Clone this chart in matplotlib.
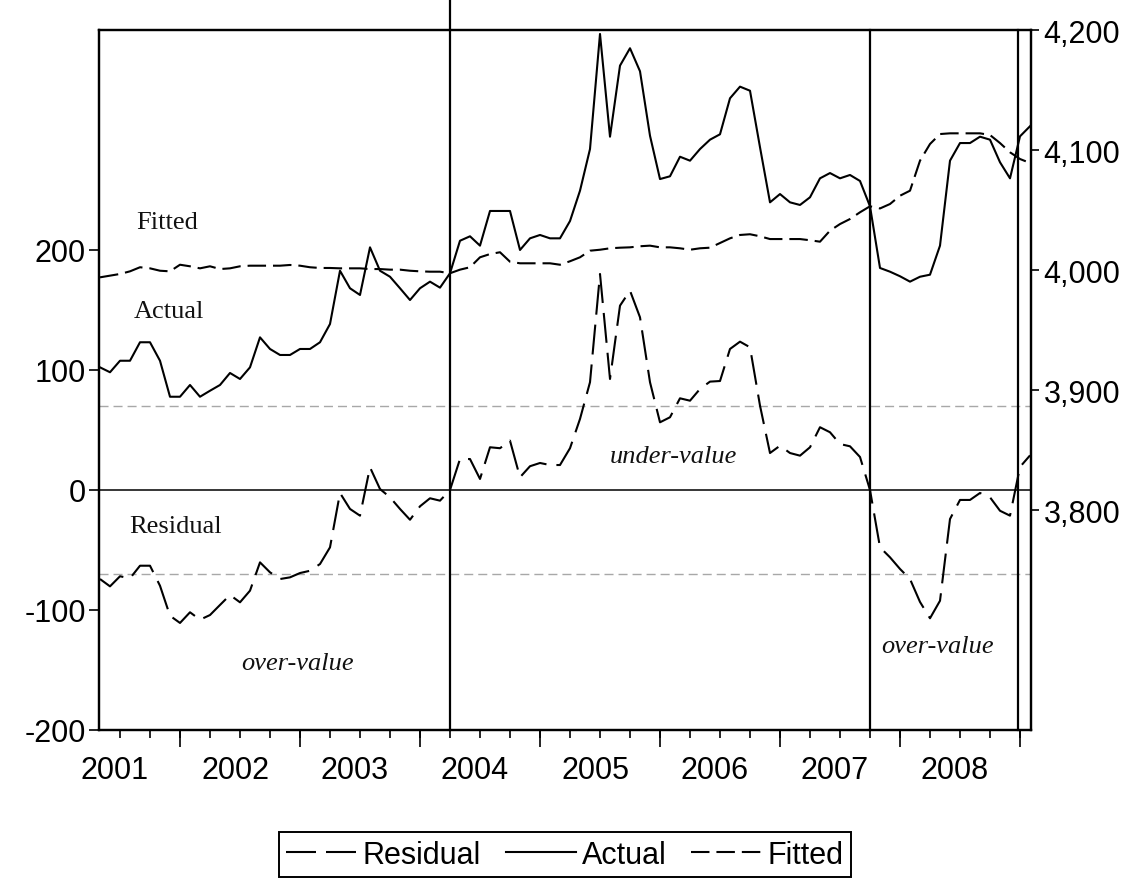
import numpy as np
import pandas as pd
import matplotlib
matplotlib.use("Agg")
import matplotlib.pyplot as plt


# Data, monthly from 2001M05
START = "2001-05"
ACTUAL = [
    3918.9, 3914.8, 3924.4, 3924.4, 3939.8, 3939.8, 3924.4, 3894.4,
    3894.4, 3904.2, 3894.4, 3899.4, 3904.2, 3914.2, 3909.2, 3918.9, 3943.9, 3934.2, 3929.2, 3929.2,
    3934.2, 3934.2, 3939.8, 3955.0, 3999.4, 3984.8, 3979.2, 4018.9, 3999.4, 3994.4, 3984.8, 3975.0,
    3984.8, 3990.3, 3985.3, 3997.3, 4024.4, 4028.1, 4020.3, 4049.2, 4049.2, 4049.2, 4016.7, 4026.4,
    4029.2, 4026.4, 4026.4, 4040.8, 4066.1, 4100.8, 4196.7, 4111.1, 4170.3, 4184.8, 4165.6, 4111.9,
    4075.8, 4078.1, 4094.4, 4091.1, 4100.8, 4108.6, 4113.1, 4143.1, 4152.8, 4149.4, 4102.3, 4056.4,
    4063.3, 4056.4, 4054.2, 4060.6, 4076.4, 4080.8, 4076.4, 4079.2, 4074.2, 4053.1, 4001.7, 3998.6,
    3994.8, 3990.3, 3994.4, 3996.1, 4020.3, 4091.1, 4105.8, 4105.8, 4111.1, 4108.6, 4089.8, 4076.4,
    4111.4, 4119.8,
]
FITTED = [
    3993.9, 3995.3, 3996.7, 3998.9, 4002.3, 4001.4, 3999.4, 3998.9,
    4004.4, 4003.1, 4001.4, 4003.1, 4000.8, 4001.4, 4003.1, 4003.6, 4003.6, 4003.6, 4003.6, 4004.2,
    4003.6, 4002.3, 4001.7, 4001.7, 4001.4, 4001.4, 4001.4, 4000.8, 4000.8, 4000.3, 4000.3, 3999.4,
    3998.9, 3998.6, 3998.6, 3997.3, 4000.3, 4002.3, 4010.6, 4013.3, 4014.8, 4006.9, 4005.6, 4005.6,
    4005.6, 4005.6, 4004.4, 4007.3, 4010.6, 4016.1, 4016.9, 4018.1, 4018.6, 4018.9, 4019.8, 4020.3,
    4018.9, 4018.9, 4018.1, 4016.9, 4018.1, 4018.6, 4022.5, 4026.4, 4029.2, 4029.8, 4028.1, 4025.8,
    4025.8, 4025.8, 4025.8, 4024.8, 4023.6, 4032.8, 4038.3, 4042.5, 4048.1, 4053.1, 4051.3, 4055.0,
    4061.9, 4066.1, 4091.1, 4105.0, 4113.3, 4113.9, 4113.9, 4113.9, 4113.9, 4112.5, 4105.8, 4098.1,
    4092.5, 4089.2,
]
RESIDUAL = [
    -74.2, -80.3, -71.9, -73.6, -63.1, -63.1, -79.8, -104.8,
    -110.8, -101.9, -108.1, -104.2, -95.8, -87.5, -93.6, -83.9, -60.3, -68.6, -74.2, -72.8,
    -69.2, -67.3, -61.7, -47.8, -2.5, -15.8, -21.4, 18.9, 0.8, -6.1, -15.8, -24.8,
    -13.6, -6.9, -8.9, 0.0, 25.8, 25.8, 9.2, 35.6, 34.8, 41.1, 10.6, 19.8,
    22.5, 20.8, 20.8, 34.8, 59.2, 89.8, 180.0, 92.5, 153.6, 166.1, 143.9, 89.8,
    56.4, 60.6, 76.4, 74.4, 84.2, 90.3, 90.8, 117.5, 123.6, 118.9, 70.3, 30.8,
    36.9, 30.8, 28.6, 35.6, 52.3, 48.1, 38.3, 36.4, 27.5, 0.0, -47.8, -56.1,
    -65.8, -74.2, -93.3, -106.9, -92.3, -24.2, -8.3, -8.3, -2.5, -6.1, -17.3, -21.4,
    19.2, 28.8,
]
YEARS = list(range(2001, 2009))
BREAKS = ["2004-04", "2007-10", "2008-12"]   # where actual crosses fitted
BREAK_SHIFT = [0.0, 0.0, 0.8]
LEFT_TICKS = [-200, -100, 0, 100, 200]
RIGHT_TICKS = [3800, 3900, 4000, 4100, 4200]
BAND = 70
NOTES = [
    ("Fitted", 10.75, 218, "normal"),
    ("Actual", 10.9, 144, "normal"),
    ("Residual", 11.6, -35, "normal"),
    ("over-value", 23.8, -149, "italic"),
    ("under-value", 61.3, 23, "italic"),
    ("over-value", 87.8, -135, "italic"),
]

# Layout (pixels)
W, H = 1141, 879
AX_L, AX_R, AX_T, AX_B = 99, 1031, 31, 731
LEFT_LIM = (-200, 383.3)
RIGHT_LIM = (3616.7, 4200)
XLIM = (3.9, 97.1)

LW = 1.5
RES_DASH = (0, (21.6, 7.2))
FIT_DASH = (0, (13.3, 5.0))
BAND_DASH = (0, (6.5, 3.6))
SANS = "Liberation Sans"
SERIF = "Liberation Serif"
TICK_FS = 22
NOTE_FS = 19

plt.rcParams["lines.scale_dashes"] = False
plt.rcParams["font.family"] = SANS


def month_index(labels):
    p = pd.PeriodIndex(labels, freq="M")
    return np.asarray((p.year - 2001) * 12 + p.month - 1, dtype=float)


periods = pd.period_range(START, periods=len(ACTUAL), freq="M")
t = month_index([str(p) for p in periods])

fig = plt.figure(figsize=(W / 100, H / 100), dpi=100)
ax = fig.add_axes([AX_L / W, (H - AX_B) / H, (AX_R - AX_L) / W, (AX_B - AX_T) / H])
ax2 = ax.twinx()

# reference lines
ax.axhline(0, color="black", lw=1.1, zorder=1)
for level in (BAND, -BAND):
    ax.axhline(level, color="#a8a8a8", lw=1.0, linestyle=BAND_DASH, zorder=1)

breaks = month_index(BREAKS) + np.array(BREAK_SHIFT)
for i, b in enumerate(breaks):
    top = AX_B / (AX_B - AX_T) if i == 0 else 1.0
    ax.axvline(b, ymin=0, ymax=top, color="black", lw=1.6, clip_on=False, zorder=2)

res_line, = ax.plot(t, RESIDUAL, color="black", lw=LW, linestyle=RES_DASH, label="Residual")
act_line, = ax2.plot(t, ACTUAL, color="black", lw=LW, label="Actual")
fit_line, = ax2.plot(t, FITTED, color="black", lw=LW, linestyle=FIT_DASH, label="Fitted")

for text, x, y, style in NOTES:
    ax.text(x, y, text, ha="center", va="baseline", fontsize=NOTE_FS,
            family=SERIF, style=style, color="#111111")

# axes limits and ticks
ax.set_xlim(XLIM)
ax.set_ylim(LEFT_LIM)
ax2.set_ylim(RIGHT_LIM)

ax.set_yticks(LEFT_TICKS)
ax.set_yticklabels([str(v) for v in LEFT_TICKS])
ax2.set_yticks(RIGHT_TICKS)
ax2.set_yticklabels([f"{v:,}" for v in RIGHT_TICKS])
ax.tick_params(axis="y", length=7.5, width=1.2, pad=2, labelsize=TICK_FS)
ax2.tick_params(axis="y", length=6, width=1.2, pad=3, labelsize=TICK_FS)

year_mid = np.array([(y - 2001) * 12 + 6 for y in YEARS], dtype=float) - 0.5
ax.set_xticks(year_mid)
ax.set_xticklabels([str(y) for y in YEARS])
ax.set_xticks(np.arange(6, 97, 3), minor=True)
ax.tick_params(axis="x", which="major", length=0, pad=18, labelsize=TICK_FS)
ax.tick_params(axis="x", which="minor", length=6, width=1.2)

sec = ax.secondary_xaxis("bottom")
sec.set_xticks(np.arange(12, 97, 12))
sec.tick_params(length=12, width=1.2, labelbottom=False)
sec.spines["bottom"].set_visible(False)

for a in (ax, ax2):
    for s in a.spines.values():
        s.set_linewidth(1.6)

leg = fig.legend([res_line, act_line, fit_line], ["Residual", "Actual", "Fitted"],
                 loc="upper center", bbox_to_anchor=((AX_L + AX_R) / 2 / W, (H - 833) / H),
                 ncol=3, frameon=True, fancybox=False, edgecolor="black", framealpha=1,
                 fontsize=TICK_FS, handlelength=2.3, handletextpad=0.2,
                 columnspacing=0.8, borderpad=0.25, borderaxespad=0)
leg.get_frame().set_linewidth(1.4)

fig.savefig("out.png", dpi=100)
